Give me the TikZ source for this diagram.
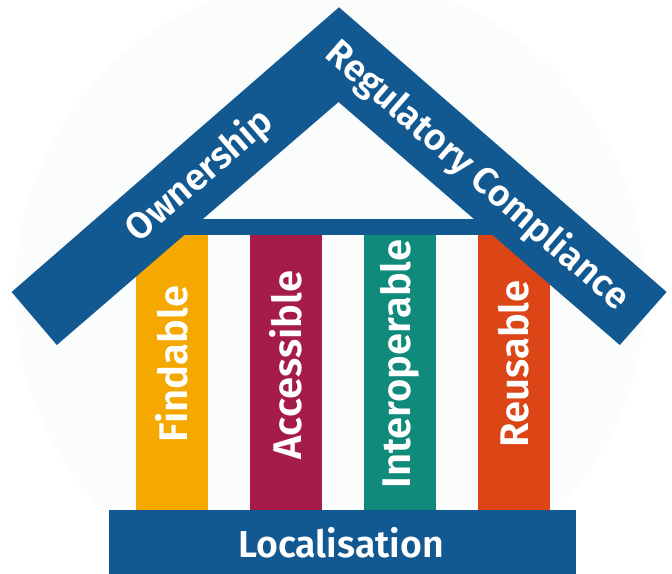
\documentclass[tikz,border=0pt]{standalone}
\usepackage{fontspec}
\setmainfont{Fira Sans}[BoldFont={Fira Sans SemiBold}]
\definecolor{roofblue}{RGB}{18,88,145}
\definecolor{findc}{RGB}{245,168,0}
\definecolor{accc}{RGB}{165,28,72}
\definecolor{intc}{RGB}{16,138,122}
\definecolor{reuc}{RGB}{220,69,22}
\definecolor{bgcirc}{RGB}{251,253,253}
\begin{document}
\begin{tikzpicture}[x=1pt,y=-1pt,
  pillar/.style={draw=none,fill=#1,minimum width=71.5pt,minimum height=276pt,inner sep=0pt,anchor=north west},
  ptext/.style={text=white,font=\fontsize{40}{40}\selectfont\bfseries,rotate=90,inner sep=0pt},
  rtext/.style={text=white,font=\fontsize{37}{37}\selectfont\bfseries,inner sep=0pt},
  ]
\useasboundingbox (0,0) rectangle (672,573);
\fill[white] (0,0) rectangle (672,573);
\fill[bgcirc] (330,292) circle[radius=315pt];
% pillars
\node[pillar=findc] (fp) at (136.2,234) {};
\node[pillar=accc] (ap) at (249.8,234) {};
\node[pillar=intc] (ip) at (363.8,234) {};
\node[pillar=reuc] (rp) at (478.2,234) {};
% beam
\fill[roofblue] (150,218.5) rectangle (530,234.6);
% roof
\fill[roofblue] (339,7.3) -- (11.6,292) -- (56.8,345) -- (338.5,102) -- (619.8,345) -- (666.6,292) -- cycle;
% base
\node[fill=roofblue,minimum width=467pt,minimum height=64pt,inner sep=0pt,anchor=north west] (base) at (108.3,509.5) {};
% texts
\node[ptext] (ft) at (fp.center |- 0,364) {Findable};
\node[ptext] (at) at (ap.center |- 0,365) {Accessible};
\node[ptext] (it) at (ip.center |- 0,364) {Interoperable};
\node[ptext] (rt) at (rp.center |- 0,364) {Reusable};
\node[rtext,rotate=41] (own) at (200,176) {Ownership};
\node[rtext,rotate=-41] (reg) at (477,176) {Regulatory Compliance};
\node[text=white,font=\fontsize{37.5}{37.5}\selectfont\bfseries,inner sep=0pt] (loc) at (341,543) {Localisation};
\end{tikzpicture}
\end{document}
